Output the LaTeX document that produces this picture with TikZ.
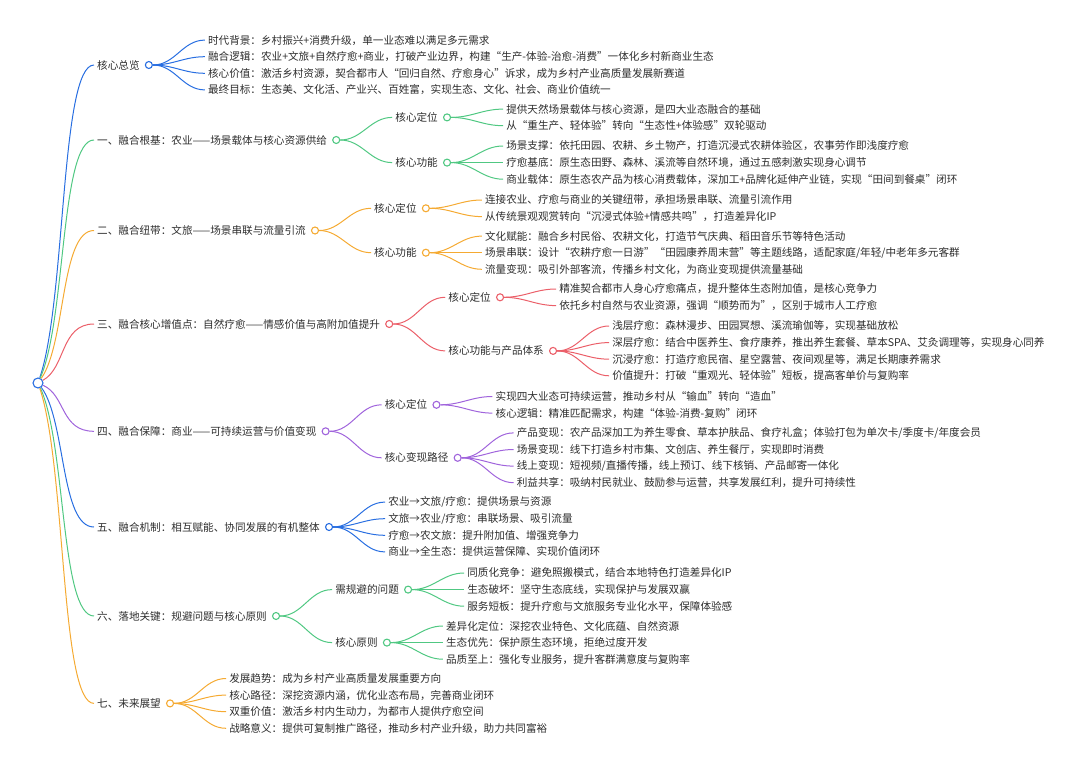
\documentclass[tikz,border=0pt]{standalone}
\usepackage{fontspec}
\setmainfont{Noto Sans CJK SC}
\usetikzlibrary{calc, positioning}

\definecolor{mblue}{RGB}{40,110,225}
\definecolor{mgreen}{RGB}{80,200,130}
\definecolor{morange}{RGB}{245,170,50}
\definecolor{mred}{RGB}{235,95,105}
\definecolor{mpurple}{RGB}{160,100,220}
\definecolor{ink}{RGB}{45,45,45}

\tikzset{
  topic/.style={anchor=west, inner xsep=3pt, inner ysep=1pt, text=ink,
    font=\fontsize{10.6}{12}\selectfont},
  bud/.style={circle, draw=#1, fill=white, line width=1.1pt,
    minimum size=7pt, inner sep=0pt},
  limb/.style={line width=1pt},
}

% children of one dot, 16.6pt apart
\newcommand{\twigs}[5]{%
  \foreach \txt [count=\i] in {#5} {
    \node[topic] (#2\i) at ($(#1)+(56pt,{#4-(\i-1)*16.6pt})$) {\txt};
    \draw[limb, #3] (#1) to[out=0, in=180] (#2\i.west);
  }}

% curve from the root to a first-level topic
\newcommand{\rootlink}[2]{%
  \draw[limb, #1] let \p1=(root.center), \p2=(#2.west) in
    (root) .. controls ({\x1+0.5*(\x2-\x1)},{\y1+0.26*(\y2-\y1)})
           and ({\x1+0.4*(\x2-\x1)},\y2) .. (#2.west);}

\begin{document}
\begin{tikzpicture}[x=1pt, y=1pt]
\useasboundingbox (0,0) rectangle (1080,-768);

% ================= ROOT =================
\node[bud=mblue, minimum size=10pt] (root) at (38,-383) {};

% ================= LEVEL ONE =================
\node[topic] (k0) at (94,-65)    {核心总览};
\node[topic] (k1) at (94,-140)   {一、融合根基：农业——场景载体与核心资源供给};
\node[topic] (k2) at (94,-230.5) {二、融合纽带：文旅——场景串联与流量引流};
\node[topic] (k3) at (94,-324)   {三、融合核心增值点：自然疗愈——情感价值与高附加值提升};
\node[topic] (k4) at (94,-431.3) {四、融合保障：商业——可持续运营与价值变现};
\node[topic] (k5) at (94,-527)   {五、融合机制：相互赋能、协同发展的有机整体};
\node[topic] (k6) at (94,-616)   {六、落地关键：规避问题与核心原则};
\node[topic] (k7) at (94,-703.4) {七、未来展望};

\foreach \k/\c in {0/mblue,1/mgreen,2/morange,3/mred,4/mpurple,5/mblue,6/mgreen,7/morange}{
  \node[bud=\c, right=2pt of k\k] (d\k) {};
  \rootlink{\c}{k\k}
}

% ================= LEVEL TWO =================
\node[topic] (k1a) at ($(d1)+(56pt,22.6pt)$)  {核心定位};
\node[topic] (k1b) at ($(d1)+(56pt,-22.6pt)$) {核心功能};
\node[topic] (k2a) at ($(d2)+(56pt,22.2pt)$)  {核心定位};
\node[topic] (k2b) at ($(d2)+(56pt,-22.2pt)$) {核心功能};
\node[topic] (k3a) at ($(d3)+(56pt,26.7pt)$)  {核心定位};
\node[topic] (k3b) at ($(d3)+(56pt,-26.9pt)$) {核心功能与产品体系};
\node[topic] (k4a) at ($(d4)+(56pt,26.5pt)$)  {核心定位};
\node[topic] (k4b) at ($(d4)+(56pt,-26.5pt)$) {核心变现路径};
\node[topic] (k6a) at ($(d6)+(56pt,26.4pt)$)  {需规避的问题};
\node[topic] (k6b) at ($(d6)+(56pt,-26.6pt)$) {核心原则};

\foreach \k/\c in {1/mgreen,2/morange,3/mred,4/mpurple,6/mgreen}{
  \node[bud=\c, right=2pt of k\k a] (d\k a) {};
  \node[bud=\c, right=2pt of k\k b] (d\k b) {};
  \draw[limb, \c] (d\k) to[out=0, in=180] (k\k a.west);
  \draw[limb, \c] (d\k) to[out=0, in=180] (k\k b.west);
}

% ================= LEAVES =================
\twigs{d0}{l0-}{mblue}{24.9pt}{%
  时代背景：乡村振兴+消费升级，单一业态难以满足多元需求,
  融合逻辑：农业+文旅+自然疗愈+商业，打破产业边界，构建“生产-体验-治愈-消费”一体化乡村新商业生态,
  核心价值：激活乡村资源，契合都市人“回归自然、疗愈身心”诉求，成为乡村产业高质量发展新赛道,
  最终目标：生态美、文化活、产业兴、百姓富，实现生态、文化、社会、商业价值统一}

\twigs{d1a}{l1a-}{mgreen}{8.3pt}{%
  提供天然场景载体与核心资源，是四大业态融合的基础,
  从“重生产、轻体验”转向“生态性+体验感”双轮驱动}
\twigs{d1b}{l1b-}{mgreen}{16.6pt}{%
  场景支撑：依托田园、农耕、乡土物产，打造沉浸式农耕体验区，农事劳作即浅度疗愈,
  疗愈基底：原生态田野、森林、溪流等自然环境，通过五感刺激实现身心调节,
  商业载体：原生态农产品为核心消费载体，深加工+品牌化延伸产业链，实现“田间到餐桌”闭环}

\twigs{d2a}{l2a-}{morange}{8.3pt}{%
  连接农业、疗愈与商业的关键纽带，承担场景串联、流量引流作用,
  从传统景观观赏转向“沉浸式体验+情感共鸣”，打造差异化IP}
\twigs{d2b}{l2b-}{morange}{16.6pt}{%
  文化赋能：融合乡村民俗、农耕文化，打造节气庆典、稻田音乐节等特色活动,
  场景串联：设计“农耕疗愈一日游”“田园康养周末营”等主题线路，适配家庭/年轻/中老年多元客群,
  流量变现：吸引外部客流，传播乡村文化，为商业变现提供流量基础}

\twigs{d3a}{l3a-}{mred}{8.3pt}{%
  精准契合都市人身心疗愈痛点，提升整体生态附加值，是核心竞争力,
  依托乡村自然与农业资源，强调“顺势而为”，区别于城市人工疗愈}
\twigs{d3b}{l3b-}{mred}{24.9pt}{%
  浅层疗愈：森林漫步、田园冥想、溪流瑜伽等，实现基础放松,
  深层疗愈：结合中医养生、食疗康养，推出养生套餐、草本SPA、艾灸调理等，实现身心同养,
  沉浸疗愈：打造疗愈民宿、星空露营、夜间观星等，满足长期康养需求,
  价值提升：打破“重观光、轻体验”短板，提高客单价与复购率}

\twigs{d4a}{l4a-}{mpurple}{8.3pt}{%
  实现四大业态可持续运营，推动乡村从“输血”转向“造血”,
  核心逻辑：精准匹配需求，构建“体验-消费-复购”闭环}
\twigs{d4b}{l4b-}{mpurple}{24.9pt}{%
  产品变现：农产品深加工为养生零食、草本护肤品、食疗礼盒；体验打包为单次卡/季度卡/年度会员,
  场景变现：线下打造乡村市集、文创店、养生餐厅，实现即时消费,
  线上变现：短视频/直播传播，线上预订、线下核销、产品邮寄一体化,
  利益共享：吸纳村民就业、鼓励参与运营，共享发展红利，提升可持续性}

\twigs{d5}{l5-}{mblue}{24.9pt}{%
  农业→文旅/疗愈：提供场景与资源,
  文旅→农业/疗愈：串联场景、吸引流量,
  疗愈→农文旅：提升附加值、增强竞争力,
  商业→全生态：提供运营保障、实现价值闭环}

\twigs{d6a}{l6a-}{mgreen}{16.6pt}{%
  同质化竞争：避免照搬模式，结合本地特色打造差异化IP,
  生态破坏：坚守生态底线，实现保护与发展双赢,
  服务短板：提升疗愈与文旅服务专业化水平，保障体验感}
\twigs{d6b}{l6b-}{mgreen}{16.6pt}{%
  差异化定位：深挖农业特色、文化底蕴、自然资源,
  生态优先：保护原生态环境，拒绝过度开发,
  品质至上：强化专业服务，提升客群满意度与复购率}

\twigs{d7}{l7-}{morange}{24.9pt}{%
  发展趋势：成为乡村产业高质量发展重要方向,
  核心路径：深挖资源内涵，优化业态布局，完善商业闭环,
  双重价值：激活乡村内生动力，为都市人提供疗愈空间,
  战略意义：提供可复制推广路径，推动乡村产业升级，助力共同富裕}
\end{tikzpicture}
\end{document}
